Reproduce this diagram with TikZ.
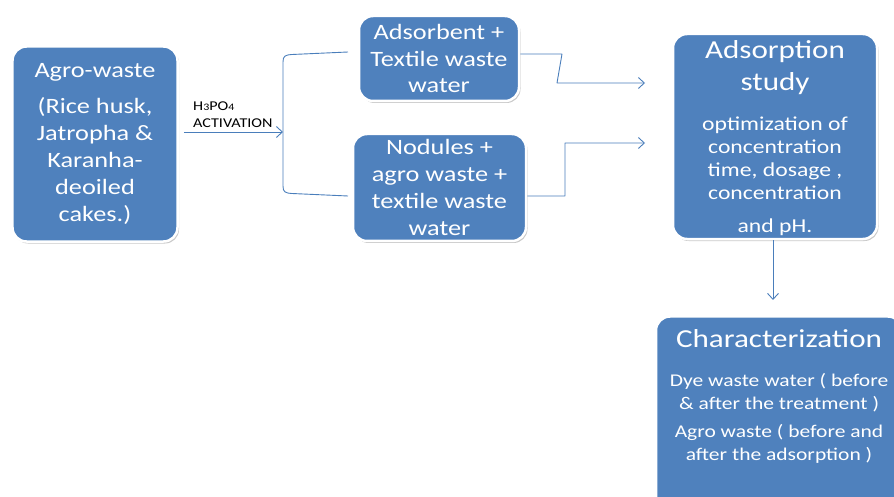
\documentclass[tikz,border=0pt]{standalone}
\usepackage{fontspec}
\setmainfont[FakeStretch=1.2]{Carlito}
\usetikzlibrary{arrows.meta,shadows,positioning}
\definecolor{boxblue}{HTML}{4F81BD}
\definecolor{linkblue}{HTML}{4A7EBB}
\tikzset{
  bluebox/.style={draw=white, line width=2.5bp, fill=boxblue, rounded corners=14bp,
    text=white, align=center, inner sep=0pt,
    drop shadow={shadow xshift=1.5bp, shadow yshift=-2bp, opacity=0.3, fill=black!70}},
  boxtext/.style={text=white, align=center, inner sep=0pt},
  link/.style={draw=linkblue, line width=0.9bp},
}
\begin{document}
\begin{tikzpicture}[x=1bp,y=-1bp,>={Straight Barb[length=6bp,width=11bp]},line join=bevel]
\useasboundingbox (0,0) rectangle (894,497);
%%
  % Node: agro
  \node[bluebox, minimum width=165bp, minimum height=195bp, font=\fontsize{22}{27}\selectfont] (agro) at (95,144)
    {Agro-waste\\[9bp](Rice husk,\\Jatropha \&\\Karanha-\\deoiled\\cakes.)};
  % Node: adsorbent
  \node[bluebox, minimum width=160bp, minimum height=85bp, font=\fontsize{22}{27}\selectfont] (adsb) at (439,58.5)
    {Adsorbent +\\Textile waste\\water};
  % Node: nodules
  \node[bluebox, minimum width=173bp, minimum height=107bp, font=\fontsize{22}{27}\selectfont] (nod) at (439.5,187.5)
    {Nodules +\\agro waste +\\textile waste\\water};
  % Node: study
  \node[bluebox, minimum width=204bp, minimum height=205bp] (study) at (775,136.5) {};
  \node[boxtext, font=\fontsize{26}{32}\selectfont, below=8bp of study.north] (studytitle)
    {Adsorption\\study};
  \node[boxtext, font=\fontsize{19.8}{23.2}\selectfont, below=21bp of studytitle] (studybody)
    {optimization of\\concentration\\time, dosage ,\\concentration\\[10bp]and pH.};
  % Node: char
  \node[bluebox, minimum width=246bp, minimum height=195bp] (char) at (779,414) {};
  \node[boxtext, font=\fontsize{26}{32}\selectfont, below=14bp of char.north] (chartitle)
    {Characterization};
  \node[boxtext, font=\fontsize{18}{23}\selectfont, below=25bp of chartitle] (charbody)
    {Dye waste water ( before\\\& after the treatment )\\[6bp]Agro waste ( before and\\after the adsorption )};
%%
  \coordinate (brk) at (283,132);
  \coordinate (inA) at (645,83);
  \coordinate (inB) at (645,143);
  \coordinate (charin) at (773,300);
  % Edge: agro -> bracket
  \draw[link, ->] ([xshift=5bp]agro.east |- brk) -- (brk);
  \node[anchor=south west, inner sep=0pt, align=left, font=\fontsize{13.5}{17}\selectfont] (act) at (193,128)
    {H{\fontsize{10}{10}\selectfont 3}PO{\fontsize{10}{10}\selectfont 4}\\ACTIVATION};
  % Edge: bracket -> adsb, nod
  \draw[link] (348,52) -- (292,54.5) .. controls (285,55) and (283,56) .. (283,62)
    -- (283,186) .. controls (283,192) and (285,193) .. (292,193.5) -- (348,196);
  % Edge: adsb -> study
  \draw[link, ->] ([yshift=4.5bp]adsb.east) -- (562,54) -- (557,83) -- (inA);
  % Edge: nod -> study
  \draw[link, ->] ([yshift=-8.5bp]nod.east) -- (565,196) -- (565,143) -- (inB);
  % Edge: study -> char
  \draw[link, ->] (study.south -| charin) -- (charin);
%
\end{tikzpicture}
\end{document}
